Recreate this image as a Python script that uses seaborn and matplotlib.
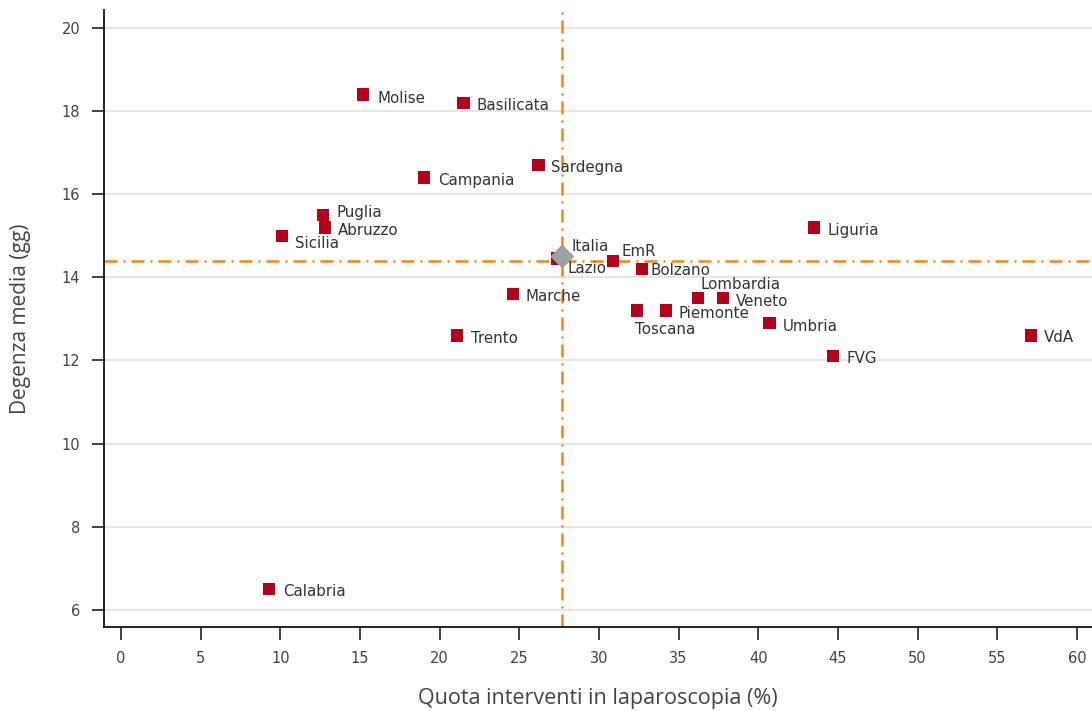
import numpy as np
import pandas as pd
import matplotlib
matplotlib.use("Agg")
import matplotlib.pyplot as plt
import seaborn as sns

regions = ["Molise", "Basilicata", "Sardegna", "Campania", "Puglia", "Abruzzo",
           "Sicilia", "Liguria", "Lazio", "EmR", "Bolzano", "Lombardia", "Veneto",
           "Marche", "Toscana", "Piemonte", "Umbria", "Trento", "VdA", "FVG", "Calabria"]
quota = [15.2, 21.5, 26.2, 19.0, 12.7, 12.8, 10.1, 43.5, 27.4, 30.9, 32.7, 36.2, 37.8,
         24.6, 32.4, 34.2, 40.7, 21.1, 57.1, 44.7, 9.3]
degenza = [18.4, 18.2, 16.7, 16.4, 15.5, 15.2, 15.0, 15.2, 14.45, 14.4, 14.2, 13.5, 13.5,
           13.6, 13.2, 13.2, 12.9, 12.6, 12.6, 12.1, 6.5]

italia_x = [27.7]
italia_y = [14.5]
ref_x = 27.7
ref_y = 14.4

x_ticks = list(range(0, 61, 5))
y_ticks = [6, 8, 10, 12, 14, 16, 18, 20]

# label offsets in pixels (dx, dy) - layout only
offsets = {
    "Molise": (14, -4), "Basilicata": (13, -3), "Sardegna": (13, -2), "Campania": (14, -3),
    "Puglia": (13, 2), "Abruzzo": (13, -3), "Sicilia": (13, -8), "Liguria": (13, -3),
    "Lazio": (10, -10), "EmR": (8, 9), "Bolzano": (9, -1), "Lombardia": (3, 14),
    "Veneto": (13, -3), "Marche": (13, -3), "Toscana": (-2, -19), "Piemonte": (13, -3),
    "Umbria": (13, -3), "Trento": (14, -3), "VdA": (13, -2), "FVG": (13, -2),
    "Calabria": (14, -2),
}

df = pd.DataFrame({"regione": regions, "quota": quota, "degenza": degenza})
dfi = pd.DataFrame({"quota": italia_x, "degenza": italia_y})

sns.set_theme(style="white")
plt.rcParams["font.family"] = ["DejaVu Sans"]

fig = plt.figure(figsize=(10.92, 7.11), dpi=100)
ax = fig.add_axes([104 / 1092, 84 / 711, 1 - 104 / 1092, (627 - 10) / 711])

for yt in y_ticks:
    ax.axhline(yt, color="#e6e6e6", lw=1.6, zorder=0)

dash = (0, (5.2, 2.4, 0.8, 2.4))
ax.axhline(ref_y, color="#f7860f", lw=1.8, ls=dash, zorder=1)
ax.axvline(ref_x, color="#f7860f", lw=1.8, ls=dash, zorder=1)

sns.scatterplot(data=df, x="quota", y="degenza", marker="s", s=78, color="#b3001b",
                edgecolor="none", ax=ax, zorder=3)
sns.scatterplot(data=dfi, x="quota", y="degenza", marker="D", s=150, color="#a0a0a0",
                edgecolor="none", ax=ax, zorder=4)

for r, xv, yv in zip(regions, quota, degenza):
    dx, dy = offsets[r]
    ax.annotate(r, (xv, yv), xytext=(dx, dy), textcoords="offset pixels",
                ha="left", va="center", fontsize=10.8, color="#333333", zorder=5)
ax.annotate("Italia", (italia_x[0], italia_y[0]), xytext=(9, 10), textcoords="offset pixels",
            ha="left", va="center", fontsize=10.8, color="#333333", zorder=5)

ax.set_xlim(-1.07, 60.95)
ax.set_ylim(5.59, 20.43)
ax.set_xticks(x_ticks)
ax.set_yticks(y_ticks)
ax.tick_params(axis="both", which="major", length=9, width=1.2, color="#222222",
               labelsize=10.5, labelcolor="#444444", direction="out", pad=8)
ax.tick_params(axis="x", bottom=True)
ax.tick_params(axis="y", left=True)
for s in ["top", "right"]:
    ax.spines[s].set_visible(False)
for s in ["left", "bottom"]:
    ax.spines[s].set_color("#111111")
    ax.spines[s].set_linewidth(1.3)

ax.set_xlabel("Quota interventi in laparoscopia (%)", fontsize=15.5, color="#444444",
              family="Open Sans", labelpad=16)
ax.set_ylabel("Degenza media (gg)", fontsize=15, color="#444444",
              family="Open Sans", labelpad=22)

fig.savefig("out.png", dpi=100)
